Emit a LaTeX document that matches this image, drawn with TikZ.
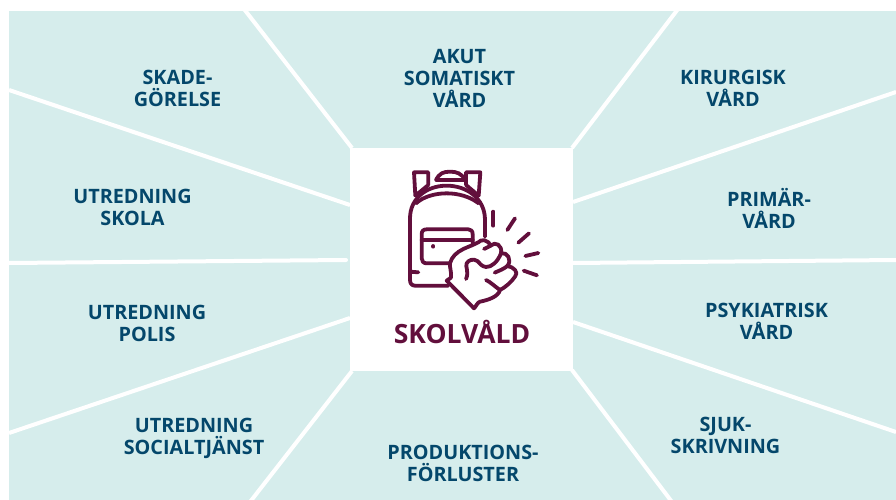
\documentclass[tikz,border=0pt]{standalone}
\usepackage{fontspec}
\setmainfont{Open Sans}[BoldFont={Open Sans Bold}]
\definecolor{panel}{HTML}{D6EDEC}
\definecolor{labelblue}{HTML}{04476B}
\definecolor{wine}{HTML}{620F3C}
\tikzset{
  lab/.style={font=\bfseries\fontsize{19.8}{22}\selectfont,text=labelblue,align=center,inner sep=0pt},
  sep/.style={draw=white,line width=4pt},
  ico/.style={draw=wine,line width=3.8pt,line cap=round,line join=round}
}
\begin{document}
\begin{tikzpicture}[x=1pt,y=-1pt]
\useasboundingbox (0,0) rectangle (896,500);
\fill[white] (0,0) rectangle (896,500);
\fill[panel] (9,11) rectangle (896,500);
\draw[sep] (244,9) -- (352,148);
\draw[sep] (9,90) -- (350,205);
\draw[sep,line cap=round] (9,263) -- (346,260);
\draw[sep] (9,433) -- (350,318);
\draw[sep] (250,502) -- (352,371);
\draw[sep] (678,9) -- (572,148);
\draw[sep] (896,92) -- (573,202);
\draw[sep] (573,263) -- (896,260);
\draw[sep] (573,322) -- (896,432);
\draw[sep] (572,370) -- (672,502);
\fill[white] (350,148) rectangle (573,371);
\node[lab] (a) at (459.5,78) {AKUT\\SOMATISKT\\VÅRD};
\node[lab] (b) at (733,88) {KIRURGISK\\VÅRD};
\node[lab] (c) at (769,208) {PRIMÄR-\\VÅRD};
\node[lab] (d) at (766.5,321) {PSYKIATRISK\\VÅRD};
\node[lab] (e) at (725.5,435) {SJUK-\\SKRIVNING};
\node[lab] (f) at (463,463) {PRODUKTIONS-\\FÖRLUSTER};
\node[lab] (g) at (194,438.5) {UTREDNING\\SOCIALTJÄNST};
\node[lab] (h) at (147,323.5) {UTREDNING\\POLIS};
\node[lab] (i) at (132.5,207.5) {UTREDNING\\SKOLA};
\node[lab] (j) at (177.5,88.5) {SKADE-\\GÖRELSE};
\node[inner sep=0pt,font=\bfseries\fontsize{26.5}{30}\selectfont,text=wine] (k) at (462,332) {SKOLVÅLD};
\begin{scope}[shift={(400,165)},x=0.33333pt,y=-0.33333pt]
% backpack body
\draw[ico] (145,362) -- (45,362) .. controls (35,362) and (30,355) .. (30,345) -- (30,160) .. controls (30,100) and (80,62) .. (140,62) .. controls (200,62) and (255,100) .. (255,165) -- (255,215);
\draw[ico] (30,320) -- (55,322);
\draw[ico] (48,115) .. controls (70,95) and (105,85) .. (140,85) .. controls (175,85) and (210,95) .. (236,115);
% straps
\draw[ico] (46,92) -- (42,22) -- (85,22) -- (85,60) (46,92) -- (85,60);
\draw[ico] (236,92) -- (241,22) -- (198,22) -- (198,60) (236,92) -- (198,60);
\draw[ico] (108,45) .. controls (118,25) and (130,20) .. (150,20) .. controls (170,20) and (185,25) .. (195,45) -- (108,45);
% pocket
\draw[ico] (148,295) -- (80,295) .. controls (70,295) and (65,288) .. (65,280) -- (65,208) .. controls (65,198) and (70,193) .. (80,193) -- (205,193) .. controls (213,193) and (218,198) .. (218,208) -- (218,235);
\draw[ico] (65,225) -- (218,225);
\draw[ico] (100,243) -- (100,245);
% fist
\draw[ico,fill=white] (222,430) -- (140,347) -- (153,338) .. controls (155,320) and (148,305) .. (150,295) .. controls (155,275) and (170,262) .. (190,252) .. controls (205,245) and (220,240) .. (235,232) .. controls (243,222) and (262,222) .. (272,242) .. controls (285,228) and (308,240) .. (303,265) .. controls (322,260) and (337,285) .. (322,303) .. controls (340,305) and (358,322) .. (345,335) .. controls (335,350) and (315,368) .. (300,375) .. controls (295,395) and (265,405) .. (240,410) .. controls (232,412) and (228,425) .. (222,430) -- cycle;
\draw[ico] (198,342) .. controls (208,320) and (195,305) .. (200,295) .. controls (205,285) and (220,280) .. (232,288) .. controls (240,295) and (245,305) .. (258,306) .. controls (275,307) and (293,290) .. (303,265);
\draw[ico] (272,242) -- (252,252);
\draw[ico] (284,323) .. controls (295,318) and (312,312) .. (322,303);
\draw[ico] (258,345) .. controls (270,350) and (285,365) .. (300,375);
% rays
\draw[ico] (280,140) -- (280,182);
\draw[ico] (345,160) -- (322,195);
\draw[ico] (387,205) -- (355,233);
\draw[ico] (415,264) -- (376,273);
\draw[ico] (411,331) -- (371,317);
\end{scope}
\end{tikzpicture}
\end{document}
